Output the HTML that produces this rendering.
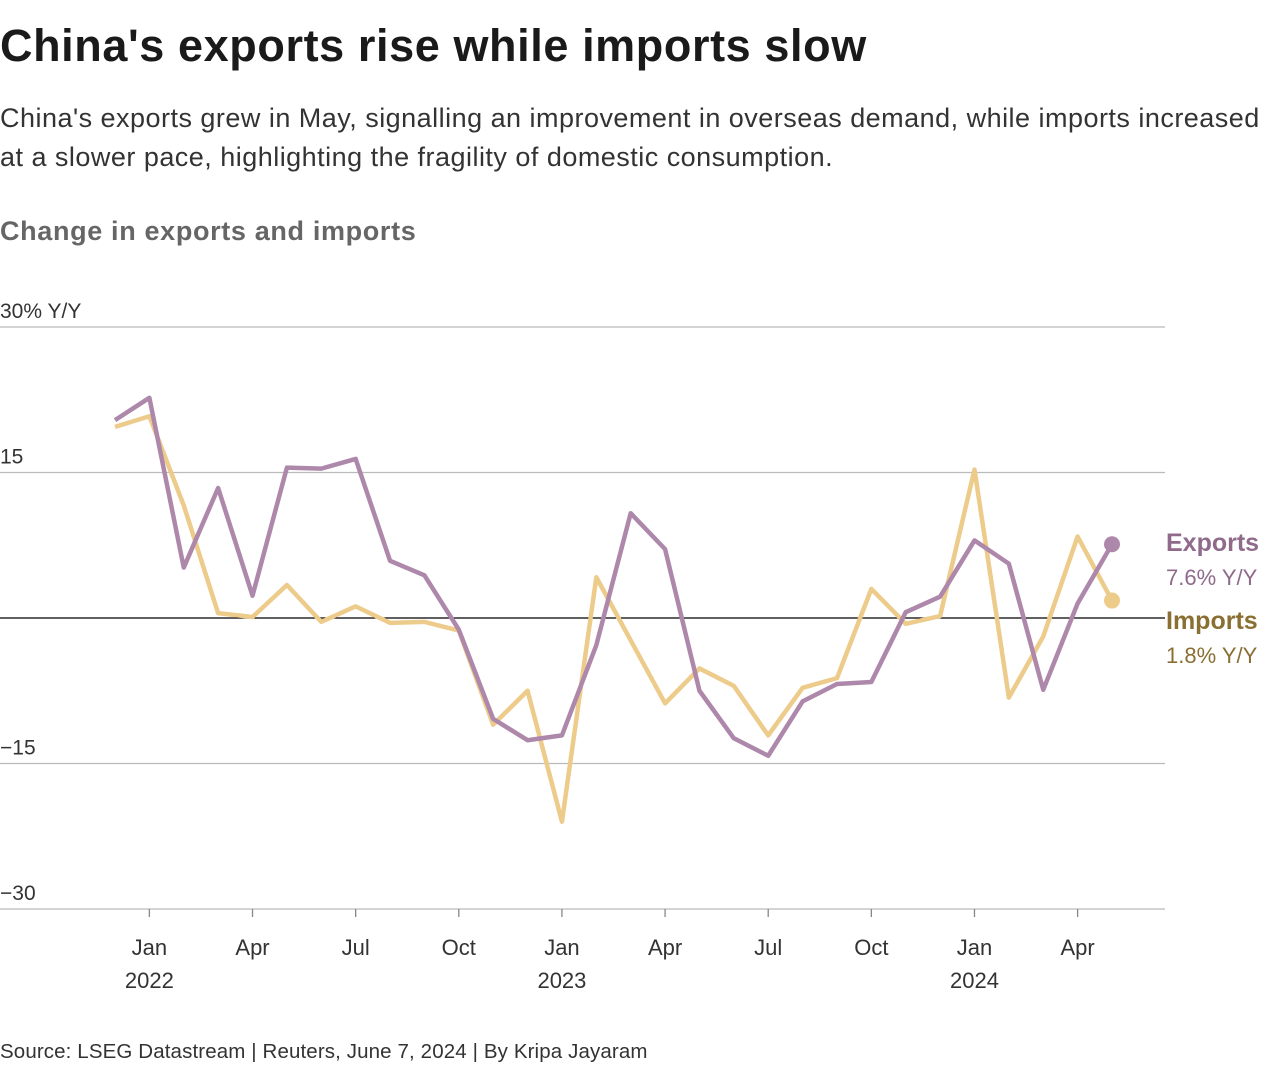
<!DOCTYPE html>
<html><head><meta charset="utf-8"><style>
body{margin:0;background:#fff;width:1280px;height:1072px;overflow:hidden;font-family:"Liberation Sans",sans-serif;}
.t{position:absolute;left:0;white-space:nowrap}
</style></head><body>
<div class="t" style="top:20px;font-size:45px;font-weight:bold;color:#1a1a1a;letter-spacing:0.6px">China's exports rise while imports slow</div>
<div class="t" style="top:99px;font-size:27px;line-height:39px;color:#333;letter-spacing:0.48px">China's exports grew in May, signalling an improvement in overseas demand, while imports increased<br>at a slower pace, highlighting the fragility of domestic consumption.</div>
<div class="t" style="top:216px;font-size:27px;font-weight:bold;color:#666;letter-spacing:0.65px">Change in exports and imports</div>
<div class="t" style="top:1040px;font-size:20.5px;color:#333;letter-spacing:0.12px">Source: LSEG Datastream | Reuters, June 7, 2024 | By Kripa Jayaram</div>
<svg id="c" width="1280" height="1072" style="position:absolute;left:0;top:0" font-family="Liberation Sans, sans-serif"></svg>
<script>
const months=["Dec21","Jan22","Feb22","Mar22","Apr22","May22","Jun22","Jul22","Aug22","Sep22","Oct22","Nov22","Dec22","Jan23","Feb23","Mar23","Apr23","May23","Jun23","Jul23","Aug23","Sep23","Oct23","Nov23","Dec23","Jan24","Feb24","Mar24","Apr24","May24"];
const exportsVals=[20.4,22.7,5.2,13.4,2.3,15.5,15.4,16.4,5.9,4.4,-1.2,-10.4,-12.6,-12.1,-2.8,10.8,7.1,-7.5,-12.4,-14.2,-8.6,-6.8,-6.6,0.6,2.2,8.0,5.6,-7.4,1.5,7.6];
const importsVals=[19.7,20.8,11.6,0.5,0.1,3.4,-0.4,1.2,-0.5,-0.4,-1.3,-11.0,-7.5,-21.0,4.2,-2.3,-8.8,-5.2,-7.0,-12.1,-7.2,-6.2,3.0,-0.6,0.2,15.3,-8.2,-1.9,8.4,1.8];
const yTicks=[30,15,0,-15,-30];
const yTickLabels=["30% Y/Y","15","","−15","−30"];
const xTickIdx=[1,4,7,10,13,16,19,22,25,28];
const xTickLabels=["Jan","Apr","Jul","Oct","Jan","Apr","Jul","Oct","Jan","Apr"];
const yearLabels={1:"2022",13:"2023",25:"2024"};
const svg=document.getElementById('c');const NS="http://www.w3.org/2000/svg";
const x=i=>115+i*(1112-115)/29;
const y=v=>618-v*(291/30);
function mk(t,a,p){const e=document.createElementNS(NS,t);for(const k in a)e.setAttribute(k,a[k]);(p||svg).appendChild(e);return e;}
yTicks.forEach((v,i)=>{
 const l=mk('line',{x1:0,x2:1165,y1:y(v),y2:y(v),stroke:v===0?'#000':'#bbb','stroke-width':1.3});
 
 
 if(yTickLabels[i]){const t=mk('text',{x:0,y:y(v)-9,'font-size':21,fill:'#333'});t.textContent=yTickLabels[i];
 
 }
});
xTickIdx.forEach((m,i)=>{
 const tk=mk('line',{x1:x(m),x2:x(m),y1:909,y2:917,stroke:'#888','stroke-width':1.3});
 
 
 const t=mk('text',{x:x(m),y:955,'font-size':22,fill:'#333','text-anchor':'middle'});t.textContent=xTickLabels[i];
 
 
 if(yearLabels[m]){const yt=mk('text',{x:x(m),y:988,'font-size':22,fill:'#333','text-anchor':'middle'});yt.textContent=yearLabels[m];
 
 }
});
function series(vals,col,name){
 const p=mk('polyline',{points:vals.map((v,i)=>x(i)+','+y(v)).join(' '),fill:'none',stroke:col,'stroke-width':4.5,'stroke-linejoin':'round'});
 
 
 const n=vals.length-1;
 const c=mk('circle',{cx:x(n),cy:y(vals[n]),r:8,fill:col});
 
 
}
series(importsVals,'#edcb8a','imports');
series(exportsVals,'#ae88aa','exports');
function lab(txt,yy,col,bold,name){const t=mk('text',{x:1166,y:yy,'font-size':bold?25:22,'font-weight':bold?'bold':'normal',fill:col});t.textContent=txt;
 
 }
lab('Exports',551,'#8f6a8b',true,'exports-label');
lab('7.6% Y/Y',585,'#8f6a8b',false,'exports-value');
lab('Imports',629,'#8a6f33',true,'imports-label');
lab('1.8% Y/Y',663,'#8a6f33',false,'imports-value');
</script>
</body></html>
